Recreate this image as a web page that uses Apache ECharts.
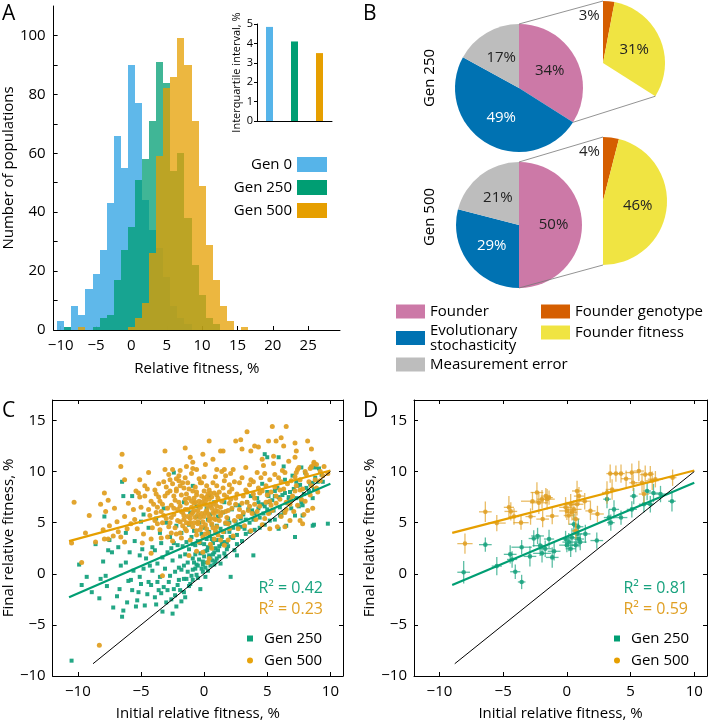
<!DOCTYPE html>
<html><head><meta charset="utf-8">
<script src="https://cdn.jsdelivr.net/npm/echarts@6/dist/echarts.min.js"></script>
<style>html,body{margin:0;padding:0;background:#fff}#c{width:708px;height:722px}</style>
</head><body><div id="c"></div>
<script>
// ---------- Panel A: histogram ----------
const histBins   = [-10,-9,-8,-7,-6,-5,-4,-3,-2,-1,0,1,2,3,4,5,6,7,8,9,10,11,12,13,14,15,16];
const gen0Counts   = [3,1,8,5,14,19,27,43,66,55,90,77,44,34,28,18,8,4,2,0,0,0,0,0,0,0,0];
const gen250Counts = [0,1,0,0,0,1,4,5,17,27,35,51,58,71,91,84,54,60,38,22,12,4,2,0,0,0,0];
const gen500Counts = [0,0,0,1,0,0,0,0,0,0,1,4,9,26,59,82,86,99,90,71,49,29,17,8,3,0,1];
const genNames = ['Gen 0','Gen 250','Gen 500'];
// inset
const iqrValues = [4.85, 4.1, 3.5];

// ---------- Panel B: variance partition ----------
const mainNames = ['Founder','Evolutionary stochasticity','Measurement error'];
const subNames  = ['Founder genotype','Founder fitness'];
const main250 = [34, 49, 17];
const sub250  = [3, 31];
const main500 = [50, 29, 21];
const sub500  = [4, 46];

// ---------- Panel C: all populations ----------
const c250 = [
[-10.5,-8.5],[-9.7,-1.1],[-8.3,-2.4],[-8.2,-0.5],[-7.6,2.3],[-7.3,2.1],[-7.2,-3.3],[-6.7,-1.5],[-6.5,-4.2],[-6.4,-3.6],
[-6.2,1.1],[-6.0,-0.7],[-5.7,-1.6],[-5.4,-3.2],[-5.3,-2.6],[-5.1,-0.3],[-5.0,-1.0],[-4.8,0.5],[-4.5,-2.0],[-4.2,-1.1],
[-4.1,0.3],[-3.9,-2.3],[-3.7,-0.8],[-3.6,-1.6],[-3.5,-0.3],[-3.3,-3.7],[-3.2,-1.3],[-2.9,-1.6],[-2.8,-0.8],[-2.7,-0.2],
[-2.5,-3.9],[-2.4,-1.5],[-2.3,-2.1],[-2.1,-1.1],[-1.9,-1.6],[-1.6,-1.8],[-1.5,-2.3],[-1.4,-0.5],[-1.1,-1.0],[-1.0,-0.2],
[-0.7,0.5],[-0.5,0.8],[-0.3,-1.5],[-0.1,0.2],[0.2,1.1],[0.4,1.6],[1.0,1.5],[2.1,-0.3],[2.6,1.8],[3.9,1.8],
[-7.9,5.6],[-6.5,9.0],[-6.4,7.6],[-5.7,7.6],[-5.0,5.1],[-3.8,5.4],[-2.4,9.9],[-1.6,7.0],[-0.9,8.6],[0.4,7.6],
[1.6,7.0],[2.5,6.7],[4.8,11.7],[5.0,11.4],[5.9,11.4],[6.3,10.5],[7.7,10.4],[8.5,10.4],[8.6,8.9],[8.7,8.3],
[7.8,6.7],[7.8,5.7],[7.2,5.7],[8.6,4.7],[9.8,4.9],[6.5,4.7],[6.1,5.7],[5.0,6.3],[5.1,7.6],[4.6,8.8],
[3.7,7.6],[4.3,7.0],[5.6,8.1],[6.7,7.5],[7.4,8.6],[7.2,3.6],[5.9,4.4],[8.7,4.8],
[-1.2,2.4],[-1.0,3.6],[-0.9,1.5],[-0.8,4.2],[-0.7,2.8],[-0.6,0.9],[-0.5,3.2],[-0.4,5.0],[-0.3,2.0],[-0.2,3.9],
[-0.1,1.2],[0.0,2.9],[0.05,4.5],[0.1,0.6],[0.2,3.4],[0.25,2.3],[0.3,5.3],[0.4,1.8],[0.45,3.7],[0.5,2.6],
[0.6,4.8],[0.65,1.3],[0.7,3.0],[0.8,2.1],[0.9,4.0],[1.0,3.3],[1.1,5.6],[1.2,2.7],[1.3,4.4],[1.4,3.6],
[1.5,6.0],[1.6,2.0],[1.7,4.9],[1.8,3.1],[1.9,5.4],[2.0,4.1],[2.2,6.3],[2.3,3.5],[2.5,5.1],[2.6,2.9],
[2.8,6.7],[2.9,4.6],[3.1,5.8],[3.3,3.9],[3.4,7.0],[3.6,5.0],[3.8,6.2],[4.0,4.3],[4.2,7.4],[4.4,5.5],
[4.6,6.8],[4.8,4.8],[5.0,8.0],[5.2,6.0],[5.4,7.2],[5.6,5.3],[5.8,8.4],[6.0,6.5],[6.2,7.7],[6.4,9.2],
[6.6,6.9],[6.8,8.0],[7.0,9.6],[7.3,7.4],[7.6,8.7],[8.0,9.9],[8.3,8.1],[8.8,9.4],[9.1,10.3],[9.4,9.0],
[-4.6,1.5],[-4.1,2.6],[-3.7,1.0],[-3.4,3.0],[-3.1,0.5],[-2.9,2.1],[-2.7,3.6],[-2.5,1.3],[-2.3,0.2],[-2.1,2.8],
[-1.9,1.7],[-1.8,4.0],[-1.6,0.8],[-1.4,3.1],[-1.3,1.1],[-5.9,2.1],[-5.5,3.2],[-5.1,1.8],[-6.8,2.6],[-7.5,3.3],
[-8.6,2.9],[-9.9,0.9],[-6.2,4.0],[-4.4,4.5],[-3.0,5.0],[-2.2,4.7],[-1.1,6.0],[-0.6,6.6],[0.2,6.4],[0.8,7.0],
[-3.2,6.4],[-4.8,5.8],
[-0.9,0.4],[-0.7,1.9],[-0.5,-0.4],[-0.3,3.0],[-0.1,0.9],[0.1,2.2],[0.3,0.3],[0.4,4.1],[0.5,1.5],[0.6,3.4],
[0.8,0.9],[0.9,2.5],[1.0,4.7],[1.2,1.7],[1.4,2.9],[1.6,4.1],[1.8,2.4],[2.0,5.0],[2.3,4.5],[2.6,3.8],
[2.9,5.4],[3.2,4.4],[3.5,6.3],[3.9,5.3],[4.3,6.4],[4.7,5.9],[5.1,7.0],[5.5,6.2],[5.9,7.5],[6.3,6.0],
[6.7,7.2],[7.1,8.3],[7.5,6.6],[7.9,7.8],[8.4,8.8],[8.8,10.4],[9.3,9.7],[-1.5,1.9],[-2.0,0.6],[-2.6,2.5],
[-3.3,1.6],[-3.9,2.3],[-4.3,0.8],[-5.6,0.3],[-6.6,0.8],[-7.8,-0.2],[-8.9,-1.8],[-1.2,4.8],[-0.6,5.6],[0.5,5.8],
[-2.0,-0.6],[-1.8,0.4],[-1.6,-0.5],[-1.3,0.2],[-1.2,-1.2],[-0.9,-0.6],[-0.8,1.1],[-0.6,-0.1],[-0.4,1.4],[-0.2,0.5],
[0.0,1.7],[0.1,-0.3],[0.3,2.6],[0.5,0.8],[0.7,1.9],[0.9,1.2],[1.1,2.3],[1.3,1.0],[1.5,3.1],[1.7,1.7],
[1.9,2.7],[2.1,3.6],[2.4,2.3],[2.7,4.6],[3.0,3.2],[3.3,5.3],[3.6,4.1],[4.0,5.9],[4.4,4.5],[4.8,6.6],
[5.2,5.2],[5.6,7.6],[6.0,5.7],[6.4,7.9],[6.9,6.4],[7.3,9.0],[7.7,7.0],[8.1,8.4],[8.6,7.4],[9.0,9.0],
[-6.9,-2.2],[-6.1,-2.8],[-5.8,-0.6],[-5.2,-1.8],[-4.7,-3.1],[-4.4,-0.8],[-3.8,-3.0],[-3.4,-1.9],[-3.0,-2.8],[-2.6,-2.5],
[-2.2,-3.2],[-1.8,-2.7],[-7.7,-1.2],[-8.0,1.2],[-9.3,-0.3],[-4.9,2.4],[-3.5,4.0],[-2.4,3.0],[-1.7,2.7],[-0.9,2.9]
];
const c500 = [
[-10.3,7.0],[-9.1,5.7],[-8.2,6.8],[-7.9,7.9],[-7.6,7.2],[-7.1,6.4],[-6.5,11.7],[-6.6,10.5],[-6.3,9.2],[-5.4,8.1],
[-5.1,7.5],[-4.7,8.6],[-4.4,9.9],[-4.2,7.1],[-3.8,7.8],[-3.7,6.5],[-3.1,12.0],[-3.1,10.2],[-2.7,9.2],[-2.5,10.2],
[-2.2,8.3],[-1.9,10.1],[-1.5,12.3],[-1.4,10.5],[-1.1,11.4],[-0.9,10.9],[-0.6,10.2],[-0.3,8.9],[-0.1,11.7],[0.1,10.7],
[0.4,13.0],[0.7,11.2],[1.0,10.2],[1.3,12.0],[1.5,12.0],[1.6,10.2],[1.7,9.6],[2.3,10.2],[2.5,13.0],[2.9,13.1],
[3.0,12.2],[3.4,13.9],[3.7,12.0],[4.0,12.5],[4.3,12.4],[4.6,11.2],[5.1,13.0],[5.4,14.4],[5.5,11.5],[5.7,13.0],
[6.1,13.3],[6.3,12.5],[6.5,14.4],[7.2,12.8],[7.3,12.0],[7.2,11.4],[8.2,13.0],[8.5,12.2],[8.9,10.7],[8.5,10.5],
[8.7,10.9],[7.4,10.2],
[-10.5,3.0],[-9.7,1.1],[-8.3,-7.0],[-7.6,3.4],[-6.6,3.6],[-6.3,3.1],[-4.9,3.0],[-4.2,3.4],[-3.3,-0.2],[-1.2,1.8],
[-0.1,2.1],[0.3,1.1],[0.4,1.5],[-4.2,2.0],
[-6.3,5.6],[-5.8,4.9],[-5.2,7.9],[-5.6,6.3],[-4.7,7.6],[-4.5,8.3],[-5.0,6.5],[-4.0,6.8],[-4.8,3.9],[-5.3,4.4],
[-6.1,4.4],[-6.8,4.1],[-7.2,3.7],[-7.9,3.4],[-8.6,3.1],[-7.5,4.7],[-8.0,4.3],[-4.3,5.7],[-3.9,5.2],[-5.1,9.2],
[-3.9,8.2],[-3.6,7.5],[-3.4,6.1],[-3.2,9.0],[-3.0,5.4],[-2.9,7.9],[-2.8,4.6],[-2.6,6.7],[-2.5,8.8],[-2.4,5.8],
[-2.3,7.2],[-2.2,3.9],[-2.1,6.3],[-2.0,9.6],[-1.9,5.1],[-1.8,7.7],[-1.7,6.0],[-1.6,8.4],[-1.5,4.4],[-1.4,6.9],
[-1.3,5.6],[-1.2,7.4],[-1.1,3.3],[-1.0,6.5],[-0.9,8.1],[-0.8,5.0],[-0.7,7.0],[-0.6,4.2],[-0.5,6.2],[-0.4,9.3],
[-0.3,5.5],[-0.2,7.6],[-0.1,3.6],[0.0,6.8],[0.1,4.8],[0.2,8.6],[0.3,5.9],[0.4,7.3],[0.5,2.9],[0.6,6.4],
[0.7,4.5],[0.8,7.9],[0.9,5.3],[1.0,6.6],[1.1,3.8],[1.2,8.0],[1.3,5.7],[1.4,7.1],[1.5,4.1],[1.6,9.1],
[1.7,6.1],[1.8,7.5],[1.9,4.9],[2.0,6.9],[2.2,8.3],[2.4,5.2],[2.6,7.8],[2.8,6.3],[3.0,9.4],[3.2,4.7],
[3.4,7.0],[3.6,8.7],[3.8,5.9],[4.0,7.4],[4.2,9.9],[4.4,6.6],[4.6,8.1],[4.8,5.4],[5.0,7.7],[5.2,9.2],
[5.4,6.2],[5.6,8.5],[5.8,4.6],[6.0,7.3],[6.2,10.1],[6.4,6.0],[6.6,8.8],[6.8,5.2],[7.0,7.6],[7.2,9.5],
[7.4,6.7],[7.6,8.2],[7.8,4.9],[8.0,7.1],[8.3,9.0],[8.6,6.4],[9.0,8.0],[9.4,9.6],[9.8,9.8],
[-1.9,6.6],[-1.6,5.3],[-1.4,7.8],[-1.2,4.9],[-1.0,5.8],[-0.8,6.9],[-0.6,7.7],[-0.5,5.1],[-0.3,6.5],[-0.2,4.6],
[0.0,5.6],[0.1,7.1],[0.2,6.2],[0.3,4.0],[0.4,8.2],[0.5,5.4],[0.6,7.5],[0.7,6.0],[0.8,3.4],[0.9,7.0],
[1.0,4.6],[1.1,6.1],[-0.4,3.1],[0.6,2.5],[-2.7,5.0],[-3.3,6.8],[-2.2,8.1],[-1.5,9.4],[-0.9,10.3],[-0.2,8.9],
[0.9,9.5],[1.4,10.0],
[2.1,9.8],[2.5,6.8],[2.9,5.6],[3.1,7.6],[3.3,10.4],[3.5,6.2],[3.9,9.0],[4.1,5.3],[4.3,8.4],[4.7,10.6],
[4.9,7.0],[5.1,5.9],[5.3,8.0],[5.5,10.8],[5.7,6.9],[5.9,9.4],[6.1,5.6],[6.3,8.3],[6.5,7.0],[6.7,11.0],
[6.9,9.1],[7.1,6.1],[7.3,8.6],[7.5,10.4],[7.7,7.3],[7.9,5.8],[8.1,9.7],[8.4,7.7],[8.7,10.8],[8.9,8.4],
[9.2,9.1],[9.5,10.5],[5.2,4.4],[6.4,4.6],[7.6,5.2],[8.2,6.2],[3.7,4.2],[2.3,3.7],[1.6,2.8],[1.9,3.3],[2.7,4.4],
[-3.5,4.3],[-3.2,5.7],[-2.9,6.4],[-2.6,4.0],[-2.4,7.6],[-2.1,5.2],[-1.9,8.6],[-1.7,4.7],[-1.5,6.3],[-1.3,8.9],
[-1.1,5.0],[-0.9,6.0],[-0.7,8.5],[-0.6,3.8],[-0.4,7.1],[-0.2,5.9],[0.0,8.1],[0.1,3.9],[0.3,7.8],[0.5,6.7],
[0.7,8.9],[0.9,4.2],[1.1,7.4],[1.3,6.5],[1.5,8.4],[1.7,5.0],[1.9,6.2],[2.1,7.3],[2.4,9.0],[2.7,5.6],
[3.0,6.9],[3.3,8.2],[3.6,6.6],[3.9,7.8],[4.2,6.1],[4.5,9.4],[4.9,8.6],[5.3,6.7],[5.7,7.6],[6.1,9.0],
[6.5,6.3],[6.9,7.2],[7.3,9.9],[7.8,8.3],[8.4,10.3],[-1.8,3.5],[-2.5,3.2],[-3.7,4.9],[-3.0,8.5],[-2.0,9.1],
[-1.0,9.8],[0.0,9.5],[1.0,8.6],[2.0,8.7],[-0.5,4.9],[0.4,5.2],[-1.4,5.0],[0.8,5.9],[-0.8,7.4],[0.2,7.5],
[-3.8,6.0],[-3.5,7.1],[-3.3,5.0],[-3.1,7.6],[-2.9,3.6],[-2.7,8.1],[-2.6,5.5],[-2.4,6.4],[-2.3,4.5],[-2.2,9.3],
[-2.0,7.0],[-1.9,4.0],[-1.8,6.1],[-1.7,8.9],[-1.6,5.7],[-1.5,7.3],[-1.4,4.2],[-1.3,6.3],[-1.2,8.3],[-1.1,5.4],
[-1.0,7.1],[-0.9,4.6],[-0.8,6.2],[-0.7,5.5],[-0.6,8.0],[-0.5,5.8],[-0.4,6.7],[-0.3,4.3],[-0.2,7.0],[-0.1,5.1],
[0.0,7.4],[0.1,6.0],[0.2,4.4],[0.3,6.6],[0.4,5.6],[0.5,7.9],[0.6,4.9],[0.7,6.8],[0.8,5.4],[0.9,6.2],
[1.0,7.7],[1.2,5.2],[1.4,6.0],[1.6,7.7],[1.8,5.5],[2.0,8.0],[2.2,6.4],[2.5,7.4],[2.8,8.9],[3.1,6.0],
[3.4,8.0],[3.7,9.2],[4.0,6.8],[4.4,7.9],[4.8,9.8],[5.2,7.1],[5.6,9.7],[6.0,8.2],[6.4,9.9],[6.8,6.8],
[7.2,8.1],[7.6,9.2],[8.0,10.0],[8.5,8.6],[8.8,9.2],[9.2,10.0],[-4.4,6.3],[-4.1,4.5],[-3.6,8.8],[-2.8,9.7],
[-5.5,5.3],[-6.0,6.9],[-6.9,5.1],[-7.8,6.1],[-9.4,4.0],[-3.4,3.5],[-0.6,2.2],[1.3,3.3],[2.0,4.4],[4.6,4.8]
];
const cFit250 = [[-10.7,-2.3],[10,8.8]];
const cFit500 = [[-10.7,3.2],[10,10.1]];
const identityLine = [[-8.8,-8.8],[10,10]];

// ---------- Panel D: replicated founders, [x, y, xErr, yErr] ----------
const d250 = [
[-8.1,0.15,0.5,1.1],[-6.4,2.85,0.5,0.7],[-5.5,0.75,0.4,0.9],[-4.45,1.9,0.5,0.9],[-4.3,1.4,0.4,0.8],
[-4.05,0.2,0.4,0.7],[-3.55,-0.8,0.3,0.7],[-3.55,2.6,0.8,0.7],[-2.9,1.7,0.5,1.0],[-2.6,3.45,0.4,0.8],
[-2.3,3.7,0.5,0.8],[-2.1,2.75,0.6,1.0],[-1.95,2.0,0.7,0.9],[-1.7,2.45,0.5,0.8],[-1.4,3.4,0.4,0.9],
[-1.15,1.6,0.5,1.0],[-0.1,3.4,0.4,0.8],[0.0,2.8,0.6,0.7],[0.15,3.1,0.5,0.9],[0.3,2.45,0.4,0.8],
[0.4,3.55,0.5,0.9],[0.55,4.85,0.4,1.0],[0.7,2.8,0.3,0.7],[0.8,3.9,0.4,0.9],[0.95,3.4,0.4,0.8],
[1.05,3.1,0.5,0.8],[1.45,3.9,0.4,0.9],[2.35,3.25,0.5,0.8],[3.3,5.5,0.4,0.8],[3.45,5.0,0.3,0.8],
[3.15,7.3,0.3,0.9],[3.7,6.3,0.4,0.9],[4.25,5.5,0.5,0.7],[5.1,6.3,0.4,0.8],[5.25,7.6,0.3,0.8],
[6.05,6.8,0.4,0.8],[6.3,8.1,0.3,0.9],[6.8,7.9,0.4,0.9],[7.35,7.8,0.5,0.8],[8.25,7.1,0.3,1.0],
[6.55,6.8,0.3,0.8],[0.9,4.6,0.4,0.8],[-1.0,2.2,0.5,0.9]
];
const d500 = [
[-8.0,2.95,0.6,1.0],[-6.4,6.06,0.5,1.0],[-5.5,4.96,0.7,0.8],[-4.55,6.5,0.4,1.1],[-4.4,6.1,0.5,0.9],
[-4.15,5.6,0.4,0.8],[-3.6,5.0,0.6,0.7],[-2.85,5.6,0.4,0.8],[-2.7,7.1,0.9,0.9],[-2.35,7.95,0.5,1.0],
[-2.2,6.95,0.7,1.1],[-1.95,7.3,0.4,0.9],[-1.9,5.35,0.5,0.8],[-1.65,7.6,0.4,0.8],[-1.55,7.3,0.6,1.0],
[-1.4,7.45,0.3,0.7],[-1.15,5.65,0.5,0.8],[-0.1,6.5,0.5,1.0],[0.0,6.15,0.6,0.9],[0.15,5.7,0.4,0.9],
[0.3,6.8,0.5,1.0],[0.4,6.0,0.4,0.8],[0.55,6.3,0.6,0.9],[0.7,5.35,0.3,0.9],[0.8,8.1,0.4,1.0],
[0.8,6.8,0.5,1.1],[0.95,7.6,0.4,0.9],[0.7,4.2,0.3,0.8],[1.4,7.1,0.5,0.8],[1.85,6.15,0.4,0.9],
[2.4,5.85,0.5,0.8],[3.15,7.95,0.4,1.1],[3.4,9.8,0.3,0.9],[3.55,8.25,0.5,1.0],[3.85,9.8,0.4,0.8],
[4.25,9.8,0.3,0.9],[4.65,9.3,0.4,0.8],[5.1,9.9,0.5,0.9],[5.2,8.9,0.3,0.8],[5.65,10.05,0.4,1.0],
[5.9,8.9,0.5,1.0],[6.15,9.7,0.4,0.9],[6.55,9.75,0.3,0.8],[6.7,9.1,0.5,0.9],[6.95,9.25,0.6,0.8],
[6.05,7.8,0.4,1.0],[8.3,9.4,0.3,0.8]
];
const dFit250 = [[-9.0,-1.1],[10,8.9]];
const dFit500 = [[-9.0,4.0],[10,10.1]];
const r2C = ['0.42','0.23'];
const r2D = ['0.81','0.59'];

// ---------- styling ----------
const FONT = "'Open Sans', 'Noto Sans', sans-serif";
const BLUE = '#56B4E9', GREEN = '#009E73', ORANGE = '#E69F00';
const PINK = '#CC79A7', DBLUE = '#0072B2', GREY = '#BDBDBD', VERM = '#D55E00', YELLOW = '#F0E442';
const histColors = [BLUE, GREEN, ORANGE];
const histOpacity = [0.95, 0.75, 0.75];
const minus = v => (v < 0 ? '\u2212' : '') + Math.abs(v);

const chart = echarts.init(document.getElementById('c'), null, {renderer: 'canvas'});

function histSeries(counts, idx) {
  return {
    type: 'custom', name: genNames[idx], xAxisIndex: 0, yAxisIndex: 0,
    itemStyle: {color: histColors[idx]},
    encode: {x: 0, y: 1},
    data: histBins.map((b, i) => [b, counts[i]]).filter(d => d[1] > 0),
    renderItem: function (params, api) {
      const k = api.value(0), v = api.value(1);
      const p0 = api.coord([k - 0.5, 0]);
      const p1 = api.coord([k + 0.5, v]);
      const x0 = Math.round(p0[0]), x1 = Math.round(p1[0]);
      const yb = Math.round(p0[1]), yt = Math.round(p1[1]);
      return {type: 'rect', shape: {x: x0, y: yt, width: x1 - x0, height: yb - yt},
              style: {fill: histColors[idx], opacity: histOpacity[idx]}};
    }
  };
}

function errSeries(name, data, color, xi, yi) {
  return {
    type: 'custom', name: name, xAxisIndex: xi, yAxisIndex: yi, itemStyle: {color: color},
    encode: {x: 0, y: 1}, data: data, z: 3,
    renderItem: function (params, api) {
      const x = api.value(0), y = api.value(1), ex = api.value(2), ey = api.value(3);
      const c = api.coord([x, y]), l = api.coord([x - ex, y]), r = api.coord([x + ex, y]);
      const t = api.coord([x, y + ey]), b = api.coord([x, y - ey]);
      const st = {stroke: color, lineWidth: 1.3, opacity: 0.7};
      return {type: 'group', children: [
        {type: 'line', shape: {x1: l[0], y1: l[1], x2: r[0], y2: r[1]}, style: st},
        {type: 'line', shape: {x1: t[0], y1: t[1], x2: b[0], y2: b[1]}, style: st},
        {type: 'circle', shape: {cx: c[0], cy: c[1], r: 2.3}, style: {fill: color, opacity: 0.85}}
      ]};
    }
  };
}

const axLine = {show: true, onZero: false, lineStyle: {color: '#000', width: 1}};
const lbl = {color: '#000', fontSize: 15, fontFamily: FONT, formatter: minus};
const nameStyle = {color: '#000', fontSize: 15, fontFamily: FONT};
const tick5 = [-10, -5, 0, 5, 10];
const ytickC = [-10, -5, 0, 5, 10, 15];

function scatterX(grid, pos, showLbl) {
  return {type: 'value', gridIndex: grid, position: pos, min: -12, max: 11,
    axisLine: axLine, splitLine: {show: false},
    axisTick: {show: true, inside: true, length: 4, customValues: tick5, lineStyle: {color: '#000'}},
    axisLabel: Object.assign({}, lbl, {show: showLbl, margin: 8, customValues: tick5}),
    name: showLbl ? 'Initial relative fitness, %' : '', nameLocation: 'middle', nameGap: 30, nameTextStyle: nameStyle};
}
function scatterY(grid, pos, showLbl) {
  return {type: 'value', gridIndex: grid, position: pos, min: -10, max: 17,
    axisLine: axLine, splitLine: {show: false},
    axisTick: {show: true, inside: true, length: 4, customValues: ytickC, lineStyle: {color: '#000'}},
    axisLabel: Object.assign({}, lbl, {show: showLbl, margin: 7, customValues: ytickC}),
    name: showLbl ? 'Final relative fitness, %' : '', nameLocation: 'middle', nameGap: 32, nameTextStyle: nameStyle};
}

// pie geometry
const c250c = [519, 88], c250r = 64, e250c = [603, 63], e250r = 62;
const c500c = [519, 225], c500r = 63, e500c = [603, 201], e500r = 64;
const mainColors = [PINK, DBLUE, GREY], subColors = [VERM, YELLOW];

function mainPie(vals, center, r) {
  return {type: 'pie', center: center, radius: r, startAngle: 90, clockwise: true, silent: true,
    avoidLabelOverlap: false, labelLine: {show: false}, emphasis: {disabled: true},
    label: {show: true, position: 'inside', formatter: p => p.value + '%', fontSize: 15, fontFamily: FONT, color: '#222'},
    itemStyle: {borderWidth: 0},
    data: vals.map((v, i) => Object.assign({name: mainNames[i], value: v, itemStyle: {color: mainColors[i]}},
      i === 1 ? {label: {color: '#fff'}} : {}))};
}
function subPie(vals, founderShare, center, r, dx, dy) {
  const data = vals.map((v, i) => ({name: subNames[i], value: v, itemStyle: {color: subColors[i]}}));
  data.push({name: 'rest', value: 100 - founderShare, itemStyle: {color: 'rgba(0,0,0,0)'}, label: {show: false}});
  return {type: 'pie', center: center, radius: r, startAngle: 90, clockwise: true, silent: true,
    avoidLabelOverlap: false, labelLine: {show: false}, emphasis: {disabled: true},
    label: {show: true, position: 'inside', formatter: p => p.value + '%', fontSize: 15, fontFamily: FONT, color: '#222'},
    labelLayout: function (p) { return p.dataIndex === 0 ? {dx: dx, dy: dy} : {}; },
    itemStyle: {borderWidth: 0}, data: data};
}
function onCircle(c, r, frac) {
  const a = frac * 2 * Math.PI;
  return [c[0] + r * Math.sin(a), c[1] - r * Math.cos(a)];
}
function connectors(cm, rm, ce, re, frac) {
  const s = {stroke: '#777', lineWidth: 0.8};
  const a0 = onCircle(cm, rm, 0), b0 = onCircle(ce, re, 0);
  const a1 = onCircle(cm, rm, frac), b1 = onCircle(ce, re, frac);
  return [
    {type: 'line', shape: {x1: a0[0], y1: a0[1], x2: b0[0], y2: b0[1]}, style: s, silent: true, z: 10},
    {type: 'line', shape: {x1: a1[0], y1: a1[1], x2: b1[0], y2: b1[1]}, style: s, silent: true, z: 10}
  ];
}
function txt(x, y, text, size, color, align, rot) {
  const el = {type: 'text', x: x, y: y, silent: true, z: 20,
    style: {text: text, fill: color || '#000', font: (size || 15) + 'px ' + FONT, align: align || 'left', verticalAlign: 'middle'}};
  if (rot) el.rotation = rot;
  return el;
}

const option = {
  animation: false,
  textStyle: {fontFamily: FONT},
  grid: [
    {left: 49, top: 6, width: 291, height: 324},
    {left: 257, top: 24, width: 75, height: 97},
    {left: 47, top: 400, width: 296, height: 278},
    {left: 414, top: 400, width: 293, height: 278}
  ],
  xAxis: [
    {type: 'value', gridIndex: 0, min: -11, max: 29.5, axisLine: axLine, splitLine: {show: false},
     axisTick: {show: true, inside: true, length: 4, customValues: [-10, -5, 0, 5, 10, 15, 20, 25], lineStyle: {color: '#000'}},
     axisLabel: Object.assign({}, lbl, {margin: 8, customValues: [-10, -5, 0, 5, 10, 15, 20, 25]}),
     name: 'Relative fitness, %', nameLocation: 'middle', nameGap: 31, nameTextStyle: nameStyle},
    {type: 'category', gridIndex: 1, data: genNames, axisLine: axLine, axisTick: {show: false}, axisLabel: {show: false}},
    scatterX(2, 'bottom', true), scatterX(2, 'top', false),
    scatterX(3, 'bottom', true), scatterX(3, 'top', false)
  ],
  yAxis: [
    {type: 'value', gridIndex: 0, min: 0, max: 110, axisLine: axLine, splitLine: {show: false},
     axisTick: {show: true, inside: true, length: 4, customValues: [0, 10, 20, 30, 40, 50, 60, 70, 80, 90, 100], lineStyle: {color: '#000'}},
     axisLabel: Object.assign({}, lbl, {margin: 8, customValues: [0, 20, 40, 60, 80, 100]}),
     name: 'Number of populations', nameLocation: 'middle', nameGap: 31, nameTextStyle: nameStyle},
    {type: 'value', gridIndex: 1, min: 0, max: 5, interval: 1, axisLine: axLine, splitLine: {show: false},
     axisTick: {show: true, inside: false, length: 3, lineStyle: {color: '#000'}},
     axisLabel: {color: '#000', fontSize: 11, fontFamily: FONT, margin: 4},
     name: 'Interquartile interval, %', nameLocation: 'middle', nameGap: 15, nameTextStyle: {color: '#000', fontSize: 11, fontFamily: FONT}},
    scatterY(2, 'left', true), scatterY(2, 'right', false),
    scatterY(3, 'left', true), scatterY(3, 'right', false)
  ],
  legend: [
    {orient: 'vertical', right: 376, top: 152, align: 'right', itemWidth: 30, itemHeight: 15, itemGap: 8,
     selectedMode: false, textStyle: {color: '#000', fontSize: 15, lineHeight: 15, fontFamily: FONT},
     data: genNames.map((n, i) => ({name: n, icon: 'rect', itemStyle: {color: histColors[i], opacity: 1}}))},
    {orient: 'vertical', left: 391, top: 299, itemWidth: 29, itemHeight: 14, itemGap: 4, selectedMode: false,
     textStyle: {color: '#000', fontSize: 15, lineHeight: 15, fontFamily: FONT},
     formatter: n => n === 'Evolutionary stochasticity' ? 'Evolutionary\nstochasticity' : n,
     data: mainNames.map(n => ({name: n, icon: 'rect'}))},
    {orient: 'vertical', left: 536, top: 299, itemWidth: 29, itemHeight: 14, itemGap: 6, selectedMode: false,
     textStyle: {color: '#000', fontSize: 15, lineHeight: 15, fontFamily: FONT},
     data: subNames.map(n => ({name: n, icon: 'rect'}))},
    {orient: 'vertical', left: 242, top: 626, itemWidth: 6, itemHeight: 6, itemGap: 7, selectedMode: false,
     textStyle: {color: '#000', fontSize: 15, lineHeight: 15, fontFamily: FONT, padding: [0, 0, 0, 6]},
     formatter: n => n.replace(/ [CD]$/, ''),
     data: [{name: 'Gen 250 C', icon: 'rect', itemStyle: {color: GREEN}}, {name: 'Gen 500 C', icon: 'circle', itemStyle: {color: ORANGE}}]},
    {orient: 'vertical', left: 609, top: 626, itemWidth: 6, itemHeight: 6, itemGap: 7, selectedMode: false,
     textStyle: {color: '#000', fontSize: 15, lineHeight: 15, fontFamily: FONT, padding: [0, 0, 0, 6]},
     formatter: n => n.replace(/ [CD]$/, ''),
     data: [{name: 'Gen 250 D', icon: 'rect', itemStyle: {color: GREEN}}, {name: 'Gen 500 D', icon: 'circle', itemStyle: {color: ORANGE}}]}
  ],
  series: [
    histSeries(gen0Counts, 0), histSeries(gen250Counts, 1), histSeries(gen500Counts, 2),
    {type: 'bar', xAxisIndex: 1, yAxisIndex: 1, barWidth: 7, silent: true,
     data: iqrValues.map((v, i) => ({value: v, itemStyle: {color: histColors[i]}}))},
    mainPie(main250, c250c, c250r), subPie(sub250, main250[0], e250c, e250r, -17, -13),
    mainPie(main500, c500c, c500r), subPie(sub500, main500[0], e500c, e500r, -18, -15),
    {type: 'scatter', name: 'Gen 250 C', xAxisIndex: 2, yAxisIndex: 2, symbol: 'rect', symbolSize: 4,
     itemStyle: {color: '#17a27e', opacity: 0.95}, data: c250, silent: true},
    {type: 'scatter', name: 'Gen 500 C', xAxisIndex: 2, yAxisIndex: 2, symbol: 'circle', symbolSize: 5,
     itemStyle: {color: '#e0a024', opacity: 0.95}, data: c500, silent: true},
    {type: 'line', xAxisIndex: 2, yAxisIndex: 2, data: cFit500, showSymbol: false, symbol: 'none', silent: true, z: 5,
     lineStyle: {color: ORANGE, width: 2.2}},
    {type: 'line', xAxisIndex: 2, yAxisIndex: 2, data: cFit250, showSymbol: false, symbol: 'none', silent: true, z: 5,
     lineStyle: {color: GREEN, width: 2.2}},
    {type: 'line', xAxisIndex: 2, yAxisIndex: 2, data: identityLine, showSymbol: false, symbol: 'none', silent: true, z: 5,
     lineStyle: {color: '#000', width: 1}},
    errSeries('Gen 250 D', d250, '#17a27e', 4, 4),
    errSeries('Gen 500 D', d500, '#e0a024', 4, 4),
    {type: 'line', xAxisIndex: 4, yAxisIndex: 4, data: dFit500, showSymbol: false, symbol: 'none', silent: true, z: 5,
     lineStyle: {color: ORANGE, width: 2.2}},
    {type: 'line', xAxisIndex: 4, yAxisIndex: 4, data: dFit250, showSymbol: false, symbol: 'none', silent: true, z: 5,
     lineStyle: {color: GREEN, width: 2.2}},
    {type: 'line', xAxisIndex: 4, yAxisIndex: 4, data: identityLine, showSymbol: false, symbol: 'none', silent: true, z: 5,
     lineStyle: {color: '#000', width: 1}}
  ],
  graphic: [].concat(
    connectors(c250c, c250r, e250c, e250r, main250[0] / 100),
    connectors(c500c, c500r, e500c, e500r, main500[0] / 100),
    [
      txt(2, 14, 'A', 21), txt(363, 14, 'B', 21), txt(2, 411, 'C', 21), txt(363, 411, 'D', 21),
      txt(430, 78, 'Gen 250', 15, '#000', 'center', Math.PI / 2),
      txt(430, 217, 'Gen 500', 15, '#000', 'center', Math.PI / 2),
      txt(323, 588, 'R\u00b2 = ' + r2C[0], 16, '#17a27e', 'right'),
      txt(323, 609, 'R\u00b2 = ' + r2C[1], 16, '#e0a024', 'right'),
      txt(688, 588, 'R\u00b2 = ' + r2D[0], 16, '#17a27e', 'right'),
      txt(688, 609, 'R\u00b2 = ' + r2D[1], 16, '#e0a024', 'right')
    ]
  )
};
chart.setOption(option);
</script>
</body></html>
